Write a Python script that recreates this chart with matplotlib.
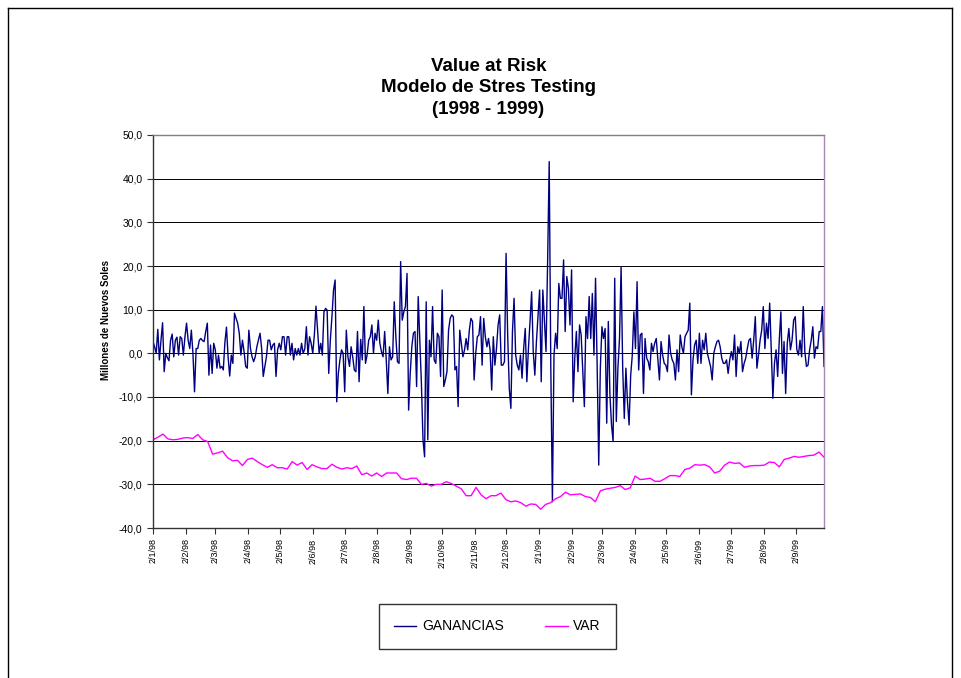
import numpy as np
import pandas as pd
import matplotlib
matplotlib.use("Agg")
import matplotlib.pyplot as plt
from matplotlib.lines import Line2D

plt.rcParams['font.family'] = ['Liberation Sans', 'DejaVu Sans']

# Periodo del grafico (fechas d/m/aa)
fecha_inicio = "1998-01-02"
fecha_fin = "1999-09-28"
etiquetas_x = ["2/1/98", "2/2/98", "2/3/98", "2/4/98", "2/5/98", "2/6/98", "2/7/98",
               "2/8/98", "2/9/98", "2/10/98", "2/11/98", "2/12/98", "2/1/99", "2/2/99",
               "2/3/99", "2/4/99", "2/5/99", "2/6/99", "2/7/99", "2/8/99", "2/9/99"]

# Ganancias diarias (millones de nuevos soles)
ganancias_1 = [2.7, 1.5, 0, 5.5, -1.5, 3, 7, -4.2, 0, -1, -1.7, 3, 4.4, -0.8, 3, 3.7, -0.4, 3.8,
               3.4, -0.4, 3.8, 6.9, 3, 1.1, 5.3, 0, -8.8, 1.1, 1.1, 3, 3.4, 2.9, 2.7, 5, 6.9, -5,
               1.9, -4.6, 2.3, 0.8, -3.4, -0.4, -3.4, -3, -3.8, 2.5, 6, -0.8, -5.2, -0.4, -2.3,
               9.2, 8.0, 6.9, 4.6, -0.4, 3, 0.4, -3, -3.4, 5.3, 1.1, -0.8, -1.9, -0.8, 1.5, 3,
               4.6, 1.1, -5.3, -3, -0.8, 3, 3, 0.8, 1.9, 2.3, -5.3, 0.8, 2.3, 0.8, 3.8, 3.8,
               -0.4, 3.8, 3.8, -0.4, 2.3, -1.5, 1.1, -0.4, 1.1, -0.4, 2.3, 0, 1.0, 6.1, -0.4,
               3.8, 2.3, 0, 4.2, 10.8, 5.3, 0, 2.3]
ganancias_2 = [-0.4, 9.5, 10.3, 9.9, -4.6, 3, 8.4, 14.5, 16.8, -11.1, -4.6, -1.5, 0.8, 0, -8.8,
               5.3, -0.8, -3, 1.5, -0.8, -3.8, -4.2, 5, -6.5, 3.2, -1.5, 10.7, -2.3, -0.4, 3,
               3.8, 6.5, 0, 4.6, 3, 7.6, 2.3, 0.4, -0.8, 5, -1.5, -9.2, 1.5, -1.5,
               -0.8, 11.8, 3.8, -1.9, -2.3, 21, 7.6, 9.5, 10.7, 18.3, -13, -4.6, 1.5, 4.6, 5,
               -7.6, 13, 3, -6.9, -19.8, -23.7, 11.8, -19.8, 3, -0.8, 10.7, -1.5, -2.3, 4.6, 3.8,
               -5.3, 14.5, -7.6, -6.1, -4.2, 5.3, 8, 8.8, 8.4, -3.8, -3, -12.2, 5.3, 2.3, -0.8,
               0.8, 3.4, 0.8, 5.3, 8, 7.3, -6.1, 0, 3.8, 4.2, 8.4, -2.7, 8, 3.8, 1.5, 3.4,
               0.8, -8.4]
ganancias_3 = [3.8, -2.7, 1.1, 6.5, 8.8, -2.7, -2.7, -1.9, 22.9, 4.2, -8, -12.6, 5, 12.6, -0.4,
               -2.7, -3.8, -0.4, -5.7, 1.1, 5.7, -6.5, 1.1, 7.3, 14.1, 0.4, -5, 2.7, 8.8, 14.5,
               -6.5, 14.5, 7.3, 0.4, 21, 43.9, -3.4, -34, -0.4, 4.6, 1.1, 16, 12.6, 12.6, 21.4, 5,
               17.6, 14.9, 6.5, 19.1, -11.1, -1.1, 5, -4.2, 6.5, 4.2, -4.2, -12.2, 8.4, 3.4, 13,
               3.4, 13.7, -0.4, 17.2, -2.7, -25.6, -3.4, 6.1, 3.4, 5.7, -16, 7.3, -9.5, -16.4,
               -20.2, 17.2, -15.6, -3.4, 3.4, 19.8, -3.4, -14.9, -3.4, -11.1, -16.4, -5, -0.4,
               9.5, 1.1, 16.4, -3.8, 4.2, 4.6, -9.2, 3.4, -1.1, -1.9, -3.8, 2.3, 0.4, 2.3, 3.4]
ganancias_4 = [-1.5, -6.1, 2.7, -0.4, -2.3, -2.7, -4.2, 4.2, 0, -1.5, -2.3, -6.1, 0.8, -4.2, 4.2,
               1.5, 0, 3.8, 4.6, 5.3, 11.5, -9.5, -1.5, 1.9, 3, -2.3, 4.6, -2.3, 3, 0.8, 4.6, 0,
               -1.5, -3, -6.1, 0, 1.5, 2.7, 3, 1.5, -1.1, -2.3, -2.3, -1.5, -4.6, -1.5, 0.4, -1.5,
               4.2, -5.3, 1.5, 0, 2.7, -4.2, -2.3, -1.1, 1.1, 3, 3.4, -1.1, 3, 8.4, -3.4, -0.4, 3,
               5.3, 10.7, 1.1, 6.9, 3.4, 11.5, 0.8, -10.3, -2.3, 0.8, -5.3, 3, 9.5, -4.6, 2.7,
               -9.2, 2.3, 5.7, 0.8, 3, 7.6, 8.4, 0.8, -0.4, 3, -0.8, 10.7, 0.4, -3, -2.7, 0.8, 3,
               6.1, -1.1, 1.5, 1.1, 5, 5, 10.7, -3]

# Value at Risk
var_1 = [-19.8, -19.2, -18.5, -19.6, -19.8, -19.7, -19.4, -19.3, -19.5, -18.6, -19.8, -20.2,
         -23.1, -22.8, -22.4, -23.9, -24.6, -24.5, -25.7, -24.3, -24.0, -24.8, -25.5, -26.1,
         -25.5, -26.2, -26.2, -26.5, -24.8, -25.6, -25.0, -26.6, -25.5, -26.0, -26.4, -26.4]
var_2 = [-25.4, -26.1, -26.5, -26.2, -26.4, -25.8, -27.8, -27.4, -28.1, -27.4, -28.2, -27.4,
         -27.4, -27.4, -28.7, -28.9, -28.6, -28.6, -30.0, -29.8, -30.4, -30.0, -30.0, -29.4,
         -29.8, -30.4, -31.0, -32.6, -32.6, -30.7, -32.4, -33.3, -32.6, -32.6]
var_3 = [-32.0, -33.5, -34.0, -33.8, -34.2, -35.0, -34.5, -34.6, -35.7, -34.6, -34.2, -33.3,
         -32.8, -31.8, -32.4, -32.3, -32.2, -32.8, -33.0, -34.0, -31.5, -31.1, -30.9, -30.7,
         -30.3, -31.2, -30.8, -28.1, -28.9, -28.8, -28.6, -29.3, -29.3, -28.7]
var_4 = [-28.0, -28.0, -28.2, -26.6, -26.3, -25.5, -25.6, -25.5, -26.0, -27.4, -27.0, -25.6,
         -24.9, -25.2, -25.1, -26.1, -25.8, -25.7, -25.7, -25.6, -24.9, -25.0, -26.0, -24.3,
         -24.0, -23.6, -23.8, -23.6, -23.4, -23.3, -22.6, -23.8]

ganancias = ganancias_1 + ganancias_2 + ganancias_3 + ganancias_4
var = var_1 + var_2 + var_3 + var_4

t0 = pd.Timestamp(fecha_inicio)
t1 = pd.Timestamp(fecha_fin)
x_gan = pd.date_range(t0, t1, periods=len(ganancias))
x_var = pd.date_range(t0, t1, periods=len(var))
ticks = pd.date_range("1998-01-01", "1999-09-01", freq="MS") + pd.Timedelta(days=1)

fig = plt.figure(figsize=(9.61, 6.78), dpi=100)
ax = fig.add_axes([153 / 961, 150 / 678, 671 / 961, 393 / 678])

ax.plot(x_gan, ganancias, color="#000080", lw=1.0, label="GANANCIAS")
ax.plot(x_var, var, color="#FF00FF", lw=1.0, label="VAR")

ax.set_xlim(t0, t1)
ax.set_ylim(-40, 50)
ax.set_yticks(np.arange(-40, 51, 10))
ax.set_yticklabels([f"{v:.1f}".replace(".", ",") for v in np.arange(-40, 51, 10)], fontsize=7.5)
ax.set_xticks(ticks)
ax.set_xticklabels(etiquetas_x, rotation=90, fontsize=6.5)
ax.tick_params(axis="both", direction="out", length=4, width=0.8, colors="#333333")
ax.tick_params(axis="both", labelcolor="black")

ax.yaxis.grid(True, color="black", lw=0.7)
ax.set_axisbelow(True)
ax.spines["left"].set_color("#333333")
ax.spines["bottom"].set_color("#333333")
ax.spines["top"].set_color("#808080")
ax.spines["right"].set_color("#a888b0")
for s in ax.spines.values():
    s.set_linewidth(1.0)

fig.text(153 / 961 + 671 / 961 / 2, 1 - 88 / 678,
         "Value at Risk\nModelo de Stres Testing\n(1998 - 1999)",
         ha="center", va="center", fontsize=13.5, fontweight="bold", linespacing=1.38)
fig.text(106 / 961, 1 - 320 / 678, "Millones de Nuevos Soles", rotation=90,
         ha="center", va="center", fontsize=7, fontweight="bold")

leg = fig.legend(loc="center", bbox_to_anchor=(497.5 / 961, 1 - 626.5 / 678), ncol=2,
                 fontsize=10, frameon=True, fancybox=False, handlelength=1.6,
                 handletextpad=0.4, columnspacing=3.0, borderpad=1.1)
leg.get_frame().set_edgecolor("black")
leg.get_frame().set_linewidth(1.0)

# marco exterior del grafico
fig.add_artist(Line2D([8 / 961, 8 / 961], [0, 1 - 8 / 678], color="black", lw=1.0))
fig.add_artist(Line2D([8 / 961, 952 / 961], [1 - 8 / 678, 1 - 8 / 678], color="black", lw=1.0))
fig.add_artist(Line2D([952 / 961, 952 / 961], [0, 1 - 8 / 678], color="black", lw=1.0))

fig.savefig("out.png", dpi=100)
